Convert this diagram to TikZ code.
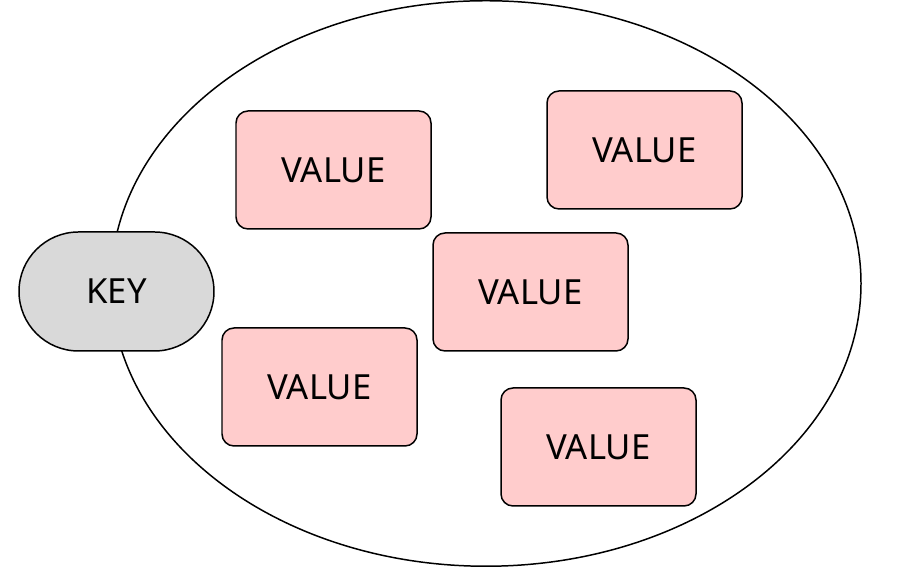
\documentclass[tikz,border=0pt]{standalone}
\usepackage{fontspec}
\setmainfont{Noto Sans}
\usetikzlibrary{positioning}

\begin{document}
\begin{tikzpicture}[
    keybox/.style={draw=black,line width=0.85pt,fill=gray!30,rounded corners=1.19cm,
                   minimum width=3.9cm,minimum height=2.38cm,inner sep=0pt,font=\fontsize{19.7}{23}\selectfont},
    valbox/.style={draw=black,line width=0.85pt,fill=red!20,rounded corners=0.24cm,
                   minimum width=3.9cm,minimum height=2.36cm,inner sep=0pt,font=\fontsize{19.7}{23}\selectfont}]
          \useasboundingbox(0,0)rectangle(18.04,11.5);
          \draw[line width=0.85pt](9.72,5.83)ellipse(7.5cm and 5.655cm);
          \node[keybox](key)at(2.33,5.67){KEY};
          \node[valbox](val1)at(6.67,8.10){VALUE};
          \node[valbox](val2)at(12.89,8.50){VALUE};
          \node[valbox](val3)at(10.61,5.66){VALUE};
          \node[valbox](val4)at(6.39,3.76){VALUE};
          \node[valbox](val5)at(11.97,2.56){VALUE};
        \end{tikzpicture}
\end{document}
